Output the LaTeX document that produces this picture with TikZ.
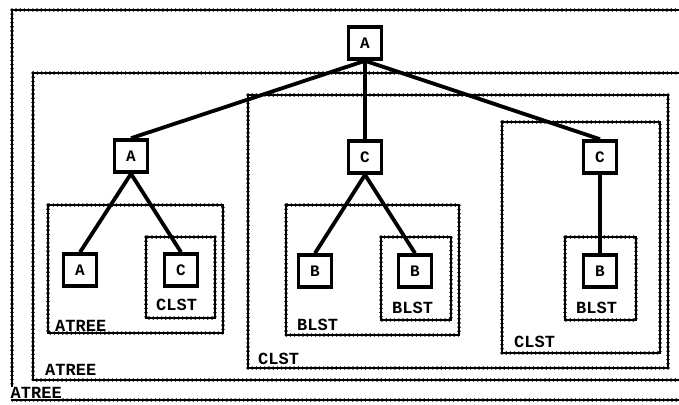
\documentclass[tikz,border=0pt]{standalone}
\usepackage{fontspec}
\newfontfamily\lblfont{Liberation Mono}
\begin{document}
\begin{tikzpicture}[x=1pt,y=-1pt,
  dotbox/.style={line width=1.6pt, postaction={draw, line width=3.6pt, line cap=round, dash pattern=on 0pt off 4.2pt}},
  tnode/.style={draw, line width=3.6pt, rectangle, minimum width=33pt, minimum height=32pt, inner sep=0pt, font=\lblfont\bfseries\fontsize{16}{16}\selectfont},
  lbl/.style={anchor=west, inner sep=0pt, font=\lblfont\bfseries\fontsize{17}{17}\selectfont},
  edge/.style={line width=3.8pt}]
\useasboundingbox (0,0) rectangle (679,404);
% boxes
\draw[dotbox] (12,10) rectangle (695,400);
\draw[dotbox] (33,73) rectangle (690,380);
\draw[dotbox] (248,95) rectangle (668,368);
\draw[dotbox] (48,205) rectangle (223,333);
\draw[dotbox] (146,237) rectangle (215,318);
\draw[dotbox] (286,205) rectangle (459,335);
\draw[dotbox] (381,237) rectangle (451,320);
\draw[dotbox] (502,122) rectangle (660,353);
\draw[dotbox] (565,237) rectangle (636,320);
% labels
\node[lbl, fill=white, inner sep=0.5pt] (l1) at (10,393) {ATREE};
\node[lbl] (l2) at (45,370) {ATREE};
\node[lbl] (l3) at (55,326) {ATREE};
\node[lbl] (l4) at (156,305) {CLST};
\node[lbl] (l5) at (258,359) {CLST};
\node[lbl] (l6) at (297,325) {BLST};
\node[lbl] (l7) at (392,308) {BLST};
\node[lbl] (l8) at (514,342) {CLST};
\node[lbl] (l9) at (576,308) {BLST};
% tree nodes
\node[tnode, fill=white] (r) at (365,43) {A};
\node[tnode, fill=white] (a2) at (131,156) {A};
\node[tnode, fill=white] (c2) at (365,157) {C};
\node[tnode, fill=white] (c3) at (600,157) {C};
\node[tnode, fill=white] (la) at (80,270) {A};
\node[tnode, fill=white] (lc) at (181,270) {C};
\node[tnode, fill=white] (lb1) at (315,271) {B};
\node[tnode, fill=white] (lb2) at (415,271) {B};
\node[tnode, fill=white] (lb3) at (600,271) {B};
% edges
\draw[edge] (r.south) -- (a2.north);
\draw[edge] (r.south) -- (c2.north);
\draw[edge] (r.south) -- (c3.north);
\draw[edge] (a2.south) -- (la.north);
\draw[edge] (a2.south) -- (lc.north);
\draw[edge] (c2.south) -- (lb1.north);
\draw[edge] (c2.south) -- (lb2.north);
\draw[edge] (c3.south) -- (lb3.north);
\end{tikzpicture}
\end{document}
